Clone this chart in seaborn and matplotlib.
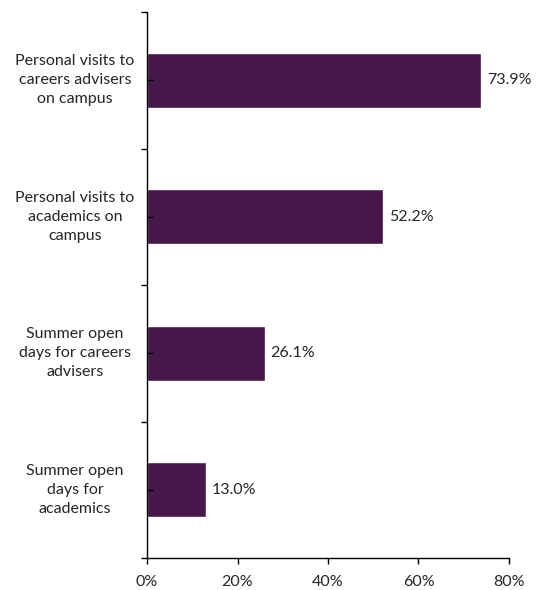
import matplotlib
matplotlib.use("Agg")
import matplotlib.pyplot as plt
import matplotlib.transforms as mtransforms
import seaborn as sns
import pandas as pd

categories = [
    "Personal visits to\ncareers advisers\non campus",
    "Personal visits to\nacademics on\ncampus",
    "Summer open\ndays for careers\nadvisers",
    "Summer open\ndays for\nacademics",
]
values = [73.9, 52.2, 26.1, 13.0]
value_labels = ["73.9%", "52.2%", "26.1%", "13.0%"]
x_ticks = [0, 20, 40, 60, 80]
x_tick_labels = ["0%", "20%", "40%", "60%", "80%"]

sns.set_style("white")
plt.rcParams['font.family'] = ['Lato', 'DejaVu Sans']

df = pd.DataFrame({"cat": categories, "val": values})

fig = plt.figure(figsize=(5.37, 5.9), dpi=100)
ax = fig.add_axes([147/537, 1 - 558/590, 362/537, 546/590])

sns.barplot(data=df, x="val", y="cat", orient="h", color="#46174A",
            width=0.4, saturation=1, ax=ax)

ax.set_xlim(0, 80)
ax.set_ylim(3.5, -0.5)
ax.set_xlabel("")
ax.set_ylabel("")
ax.set_axisbelow(False)

for s in ["top", "right"]:
    ax.spines[s].set_visible(False)
for s in ["left", "bottom"]:
    ax.spines[s].set_color("black")
    ax.spines[s].set_linewidth(1.0)
    ax.spines[s].set_zorder(5)

ax.set_xticks(x_ticks)
ax.set_xticklabels(x_tick_labels, fontsize=11.5)
ax.tick_params(axis="x", bottom=True, direction="out", length=4, width=1,
               color="black", pad=8)

# major y ticks at category boundaries, minor at centers
ax.set_yticks([-0.5, 0.5, 1.5, 2.5, 3.5])
ax.set_yticklabels([])
ax.set_yticks(range(len(categories)), minor=True)
ax.tick_params(axis="y", which="major", left=True, direction="out", length=4,
               width=1, color="black")
ax.tick_params(axis="y", which="minor", left=True, direction="in", length=4,
               width=1, color="black")

trans = mtransforms.blended_transform_factory(ax.transAxes, ax.transData)
for i, cat in enumerate(categories):
    ax.text(-0.199, i, cat, transform=trans, ha="center", va="center",
            multialignment="center", fontsize=11.5, linespacing=1.45)

for i, (v, lab) in enumerate(zip(values, value_labels)):
    ax.annotate(lab, xy=(v, i), xytext=(4, 0), textcoords="offset points",
                ha="left", va="center", fontsize=11.5)

fig.savefig("out.png", dpi=100)
